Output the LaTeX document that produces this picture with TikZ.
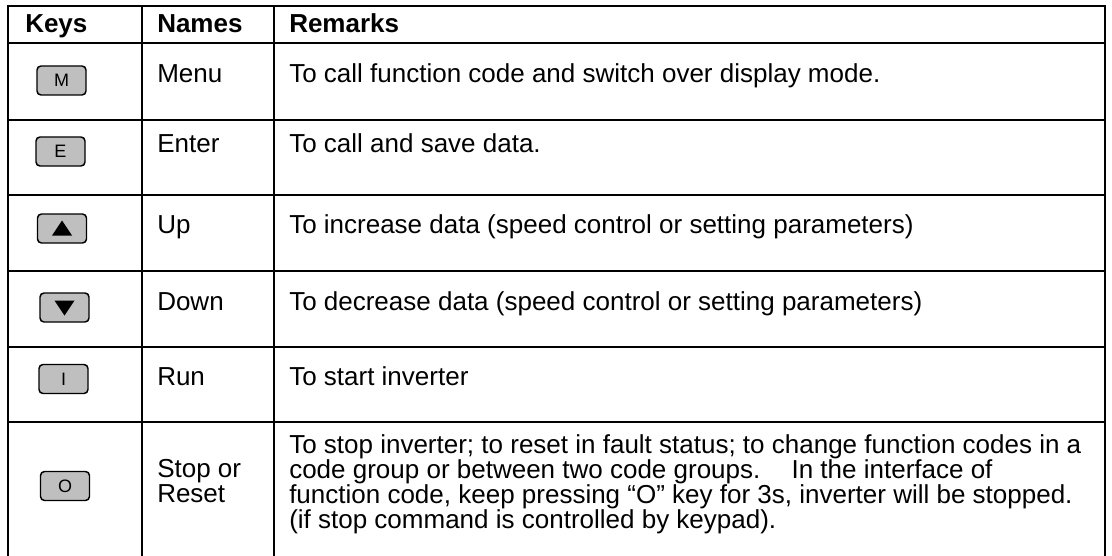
\documentclass[tikz,border=0pt]{standalone}
\usepackage{fontspec}
\setmainfont{Liberation Sans}
\usetikzlibrary{positioning}

\tikzset{
  rule/.style={line width=1.7pt, line cap=rect},
  keybtn/.style={draw, line width=1.1pt, fill=black!25, rounded corners=3pt,
    minimum width=36.75pt, minimum height=21.75pt, inner sep=0pt,
    font=\fontsize{13.5}{15}\selectfont},
  cell/.style={anchor=base west, inner sep=0pt, font=\fontsize{19.5}{22}\selectfont},
  head/.style={cell, font=\fontsize{19.5}{22}\selectfont\bfseries},
}

\begin{document}
\begin{tikzpicture}[x=0.75pt, y=-0.75pt]
\useasboundingbox (0,0) rectangle (1112,556);

\foreach \y in {6,43,120,195,271,347,422}
  \draw[rule] (8,\y) -- (1105,\y);
\foreach \x in {8,142,274,1105}
  \draw[rule] (\x,6) -- (\x,562);

\node (H1) [head] at (25,33)  {Keys};
\node (H2) [head] at (157,33) {Names};
\node (H3) [head] at (289,33) {Remarks};

\node (K1) [keybtn] at (61.5,80.5) {M};
\node (K2) [keybtn] at (60.5,151.5) {E};
\node (K3) [keybtn] at (62,228.5) {};
\node (K4) [keybtn] at (64.5,307.5) {};
\node (K5) [keybtn] at (63.5,379) {I};
\node (K6) [keybtn] at (65,486) {O};
\fill ([shift={(-10,7)}]K3.center) -- ([shift={(10,7)}]K3.center) -- ([shift={(0,-8)}]K3.center) -- cycle;
\fill ([shift={(-10,-7)}]K4.center) -- ([shift={(10,-7)}]K4.center) -- ([shift={(0,8)}]K4.center) -- cycle;

\node (N1) [cell] at (157,83)  {Menu};
\node (N2) [cell] at (157,152) {Enter};
\node (N3) [cell] at (157,233) {Up};
\node (N4) [cell] at (157,310) {Down};
\node (N5) [cell] at (157,385) {Run};
\node (N6a) [cell] at (157,477) {Stop or};
\node (N6b) [cell, below=18.75pt of N6a.base west, anchor=base west] {Reset};

\node (R1) [cell] at (289,83)  {To call function code and switch over display mode.};
\node (R2) [cell] at (289,152) {To call and save data.};
\node (R3) [cell] at (289,233) {To increase data (speed control or setting parameters)};
\node (R4) [cell] at (289,310) {To decrease data (speed control or setting parameters)};
\node (R5) [cell] at (289,385) {To start inverter};
\node (R6a) [cell] at (289,453) {To stop inverter; to reset in fault status; to change function codes in a};
\node (R6b) [cell, below=18.75pt of R6a.base west, anchor=base west] {code group or between two code groups.\hspace{1.2em}In the interface of};
\node (R6c) [cell, below=18.75pt of R6b.base west, anchor=base west] {function code, keep pressing “O” key for 3s, inverter will be stopped.};
\node (R6d) [cell, below=18.75pt of R6c.base west, anchor=base west] {(if stop command is controlled by keypad).};
\end{tikzpicture}
\end{document}
